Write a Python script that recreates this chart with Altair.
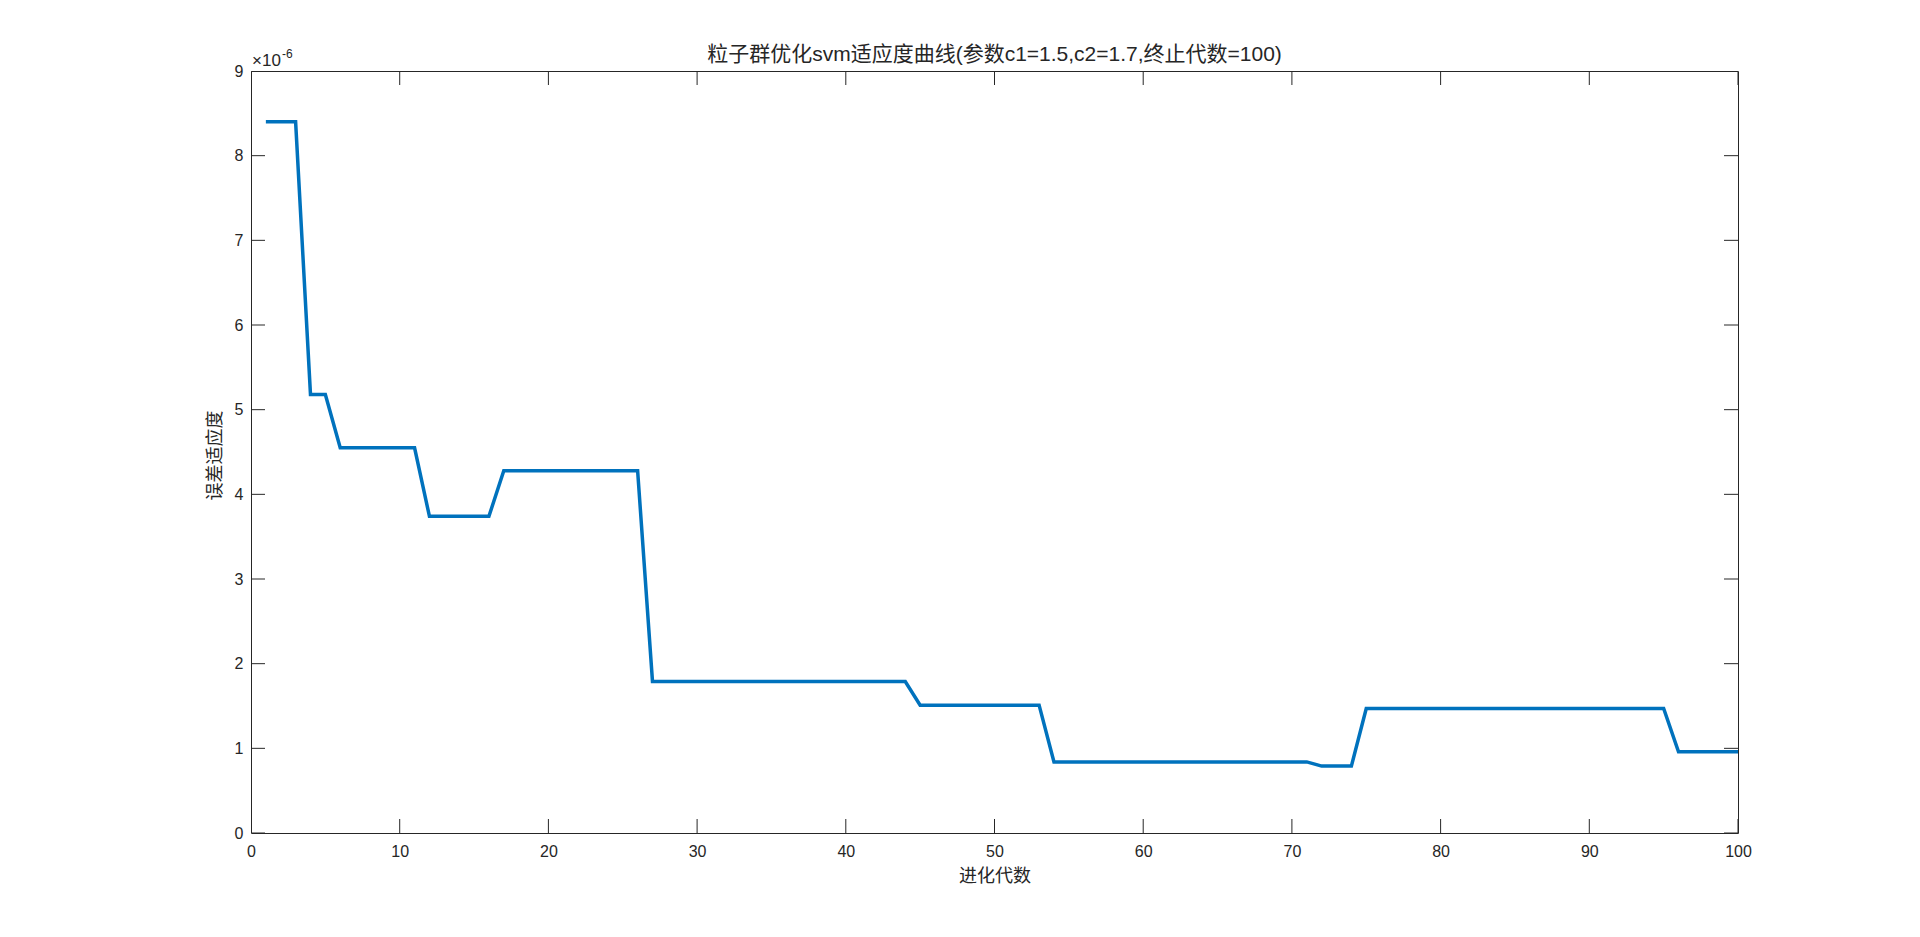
import altair as alt
import pandas as pd

# ---- data ----
generations = list(range(1, 101))
fitness_e6 = [
    8.40, 8.40, 8.40, 5.18, 5.18, 4.55, 4.55, 4.55, 4.55, 4.55,
    4.55, 3.74, 3.74, 3.74, 3.74, 3.74, 4.28, 4.28, 4.28, 4.28,
    4.28, 4.28, 4.28, 4.28, 4.28, 4.28, 1.79, 1.79, 1.79, 1.79,
    1.79, 1.79, 1.79, 1.79, 1.79, 1.79, 1.79, 1.79, 1.79, 1.79,
    1.79, 1.79, 1.79, 1.79, 1.51, 1.51, 1.51, 1.51, 1.51, 1.51,
    1.51, 1.51, 1.51, 0.84, 0.84, 0.84, 0.84, 0.84, 0.84, 0.84,
    0.84, 0.84, 0.84, 0.84, 0.84, 0.84, 0.84, 0.84, 0.84, 0.84,
    0.84, 0.79, 0.79, 0.79, 1.47, 1.47, 1.47, 1.47, 1.47, 1.47,
    1.47, 1.47, 1.47, 1.47, 1.47, 1.47, 1.47, 1.47, 1.47, 1.47,
    1.47, 1.47, 1.47, 1.47, 1.47, 0.96, 0.96, 0.96, 0.96, 0.96,
]
x_ticks = [0, 10, 20, 30, 40, 50, 60, 70, 80, 90, 100]
y_ticks = [0, 1, 2, 3, 4, 5, 6, 7, 8, 9]
x_domain = [0, 100]
y_domain = [0, 9]

title_text = "粒子群优化svm适应度曲线(参数c1=1.5,c2=1.7,终止代数=100)"
x_title = "进化代数"
y_title = "误差适应度"
exp_base = "×10"
exp_power = "-6"

FONT = "Liberation Sans, Arial, Noto Sans CJK SC"
AX = "#262626"

df = pd.DataFrame({"gen": generations, "fit": fitness_e6})
xt = pd.DataFrame([{"tick": t, "edge": e} for t in x_ticks for e in y_domain])
yt = pd.DataFrame([{"tick": t, "edge": e} for t in y_ticks for e in x_domain])

xs = alt.Scale(domain=x_domain, nice=False, zero=False)
ys = alt.Scale(domain=y_domain, nice=False, zero=False)

x_axis = alt.Axis(values=x_ticks, format="d", ticks=False, domain=False, grid=False,
                  labelFontSize=16, labelFont=FONT, labelColor=AX, labelPadding=10,
                  labelFlush=False,
                  title=x_title, titleFont=FONT, titleFontSize=18,
                  titleFontWeight="normal", titleColor=AX,
                  titleY=43, titleBaseline="middle")
y_axis = alt.Axis(values=y_ticks, format="d", ticks=False, domain=False, grid=False,
                  labelFontSize=16, labelFont=FONT, labelColor=AX, labelPadding=8,
                  labelFlush=False,
                  title=y_title, titleFont=FONT, titleFontSize=18,
                  titleFontWeight="normal", titleColor=AX,
                  titleX=-36, titleY=384, titleAngle=-90,
                  titleBaseline="middle", titleAlign="center")

line = alt.Chart(df).mark_line(color="#0072BD", strokeWidth=3.5).encode(
    x=alt.X("gen:Q", scale=xs, axis=x_axis),
    y=alt.Y("fit:Q", scale=ys, axis=y_axis),
)

xtick_layer = alt.Chart(xt).mark_tick(
    orient="vertical", size=28, thickness=1, color=AX, clip=True, opacity=1
).encode(
    x=alt.X("tick:Q", scale=xs, axis=x_axis),
    y=alt.Y("edge:Q", scale=ys, axis=y_axis),
)

ytick_layer = alt.Chart(yt).mark_tick(
    orient="horizontal", size=28, thickness=1, color=AX, clip=True, opacity=1
).encode(
    x=alt.X("edge:Q", scale=xs, axis=x_axis),
    y=alt.Y("tick:Q", scale=ys, axis=y_axis),
)

exp_df = pd.DataFrame({"base": [exp_base], "power": [exp_power]})
exp_base_layer = alt.Chart(exp_df).mark_text(
    align="left", baseline="alphabetic", dx=1, dy=-5, fontSize=17, font=FONT, color=AX
).encode(x=alt.datum(x_domain[0]), y=alt.datum(y_domain[1]), text="base:N")
exp_pow_layer = alt.Chart(exp_df).mark_text(
    align="left", baseline="alphabetic", dx=31, dy=-13, fontSize=12, font=FONT, color=AX
).encode(x=alt.datum(x_domain[0]), y=alt.datum(y_domain[1]), text="power:N")

chart = alt.layer(line, xtick_layer, ytick_layer, exp_base_layer, exp_pow_layer).properties(
    width=1487,
    height=762,
    title=alt.TitleParams(title_text, font=FONT, fontSize=21, fontWeight="normal",
                          color=AX, anchor="middle", offset=-17),
    autosize=alt.AutoSizeParams(type="none"),
    padding={"left": 243, "top": 63, "right": 20, "bottom": 60},
    background="white",
).configure_view(stroke=AX, strokeWidth=1)

chart.save("out.html", embed_options={"renderer": "svg", "actions": False})
